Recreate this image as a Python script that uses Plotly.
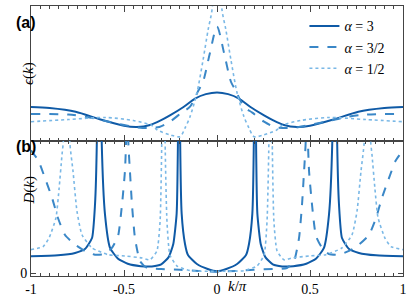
import numpy as np
import plotly.graph_objects as go
from plotly.subplots import make_subplots

# ---------------- data (left half, k/pi <= 0; curves are symmetric) ----------------
# panel (a): epsilon(k)
eps_k_a3 = [-1, -0.9, -0.76, -0.63, -0.5, -0.43, -0.36, -0.3, -0.253, -0.18, -0.118, -0.06, 0]
eps_a3 = [0.252, 0.244, 0.217, 0.161, 0.113, 0.104, 0.119, 0.155, 0.19, 0.252, 0.314, 0.347, 0.360]

eps_k_a32 = [-1, -0.8, -0.7, -0.6, -0.5, -0.4, -0.31, -0.253, -0.19, -0.145, -0.1, -0.075, -0.038, 0]
eps_a32 = [0.2, 0.196, 0.178, 0.148, 0.119, 0.096, 0.104, 0.143, 0.21, 0.254, 0.374, 0.439, 0.652, 0.847]

eps_k_a12 = [-1, -0.8, -0.6, -0.45, -0.35, -0.32, -0.25, -0.199, -0.172, -0.145, -0.108, -0.075, -0.048, -0.027, 0]
eps_a12 = [0.143, 0.159, 0.174, 0.152, 0.115, 0.081, 0.045, 0.032, 0.096, 0.18, 0.356, 0.6, 0.822, 0.97, 1.5]

# panel (b): D(k)
D_k_a3 = [-1, -0.855, -0.763, -0.71, -0.672, -0.656, -0.646, -0.634, -0.62, -0.602, -0.575, -0.532,
          -0.48, -0.41, -0.35, -0.3, -0.26, -0.235, -0.217, -0.21, -0.204, -0.198, -0.19, -0.172,
          -0.156, -0.108, -0.05, 0]
D_a3 = [0.127, 0.134, 0.152, 0.182, 0.265, 0.515, 1.0, 4.0, 1.0, 0.44, 0.19, 0.108,
        0.07, 0.052, 0.05, 0.065, 0.12, 0.22, 0.45, 1.0, 4.0, 1.0, 0.45, 0.22,
        0.136, 0.068, 0.03, 0.013]

D_k_a32 = [-1, -0.96, -0.925, -0.887, -0.855, -0.817, -0.763, -0.71, -0.656, -0.602, -0.565, -0.532,
           -0.511, -0.495, -0.489, -0.484, -0.477, -0.468, -0.457, -0.441, -0.414, -0.376, -0.3,
           -0.2, -0.1, 0]
D_a32 = [0.93, 0.85, 0.72, 0.57, 0.417, 0.288, 0.215, 0.167, 0.139, 0.144, 0.19, 0.28,
         0.515, 0.77, 1.0, 4.0, 1.0, 0.77, 0.515, 0.265, 0.09, 0.038, 0.03,
         0.025, 0.015, 0.01]

D_k_a12 = [-1, -0.935, -0.903, -0.866, -0.849, -0.833, -0.826, -0.809, -0.792, -0.774, -0.753, -0.726,
           -0.672, -0.586, -0.495, -0.403, -0.36, -0.323, -0.306, -0.297, -0.288, -0.279, -0.269,
           -0.253, -0.215, -0.145, 0]
D_a12 = [0.177, 0.2, 0.265, 0.417, 0.64, 0.9, 1.0, 4.0, 1.0, 0.77, 0.47, 0.29,
         0.19, 0.139, 0.129, 0.114, 0.1, 0.167, 0.39, 1.0, 4.0, 1.0, 0.39,
         0.136, 0.053, 0.018, 0.013]

names = ["<i>α</i> = 3", "<i>α</i> = 3/2", "<i>α</i> = 1/2"]
colors = ["#0f5aa6", "#3a87c7", "#7ab8e6"]
dashes = ["solid", "dash", "dot"]
widths = [2.0, 2.0, 1.6]

x_tickvals = [-1, -0.5, 0, 0.5, 1]
x_ticktext = ["-1", "-0.5", "0", "0.5", "1"]


def mirror(k, v):
    k = np.asarray(k, float)
    v = np.asarray(v, float)
    return np.concatenate([k, -k[-2::-1]]), np.concatenate([v, v[-2::-1]])


fig = make_subplots(rows=2, cols=1, shared_xaxes=True, vertical_spacing=0)

top = [(eps_k_a3, eps_a3), (eps_k_a32, eps_a32), (eps_k_a12, eps_a12)]
bot = [(D_k_a3, D_a3), (D_k_a32, D_a32), (D_k_a12, D_a12)]

for i in range(3):
    kx, ky = mirror(*top[i])
    fig.add_trace(go.Scatter(x=kx, y=ky, mode="lines", name=names[i],
                             line=dict(color=colors[i], dash=dashes[i], width=widths[i],
                                       shape="spline", smoothing=0.8)), row=1, col=1)
for i in range(3):
    kx, ky = mirror(*bot[i])
    fig.add_trace(go.Scatter(x=kx, y=ky, mode="lines", showlegend=False,
                             line=dict(color=colors[i], dash=dashes[i], width=widths[i],
                                       shape="spline", smoothing=0.5)), row=2, col=1)

serif = "Liberation Serif"
axcol = "#444"
xcommon = dict(range=[-1, 1], tickvals=x_tickvals, ticktext=x_ticktext, ticks="inside",
               ticklen=6, tickcolor=axcol, showline=True, linecolor=axcol, linewidth=1,
               mirror="ticks", showgrid=False, zeroline=False,
               minor=dict(dtick=0.05, ticks="inside", ticklen=3, tickcolor=axcol, showgrid=False))
fig.update_xaxes(**xcommon, showticklabels=False, row=1, col=1)
fig.update_xaxes(**xcommon, showticklabels=True, tickfont=dict(family=serif, size=14, color="black"),
                 row=2, col=1)
fig.update_yaxes(range=[0, 1], showticklabels=False, ticks="", showline=True, linecolor=axcol,
                 linewidth=1, mirror=True, showgrid=False, zeroline=False, row=1, col=1)
fig.update_yaxes(range=[-0.0227, 1], tickvals=[0], ticktext=["0"], ticks="inside", ticklen=5,
                 tickcolor=axcol, showline=True, linecolor=axcol, linewidth=1, mirror="ticks",
                 showgrid=False, zeroline=False, tickfont=dict(family=serif, size=14, color="black"),
                 row=2, col=1)

fig.update_layout(
    width=415, height=308, margin=dict(l=31, r=12, t=6, b=32),
    paper_bgcolor="white", plot_bgcolor="white",
    legend=dict(x=0.735, y=0.984, xanchor="left", yanchor="top", bgcolor="rgba(0,0,0,0)",
                font=dict(family=serif, size=14, color="black"), tracegroupgap=0,
                itemwidth=30),
    annotations=[
        dict(text="<b>(a)</b>", x=-0.045, y=0.978, xref="paper", yref="paper", showarrow=False,
             font=dict(family="Liberation Sans", size=16, color="black")),
        dict(text="<b>(b)</b>", x=-0.045, y=0.478, xref="paper", yref="paper", showarrow=False,
             font=dict(family="Liberation Sans", size=16, color="black")),
        dict(text="<i>ϵ</i>(<i>k</i>)", x=-0.035, y=0.8, xref="paper", yref="paper",
             showarrow=False, textangle=-90, font=dict(family=serif, size=15, color="black")),
        dict(text="<i>D</i>(<i>k</i>)", x=-0.033, y=0.256, xref="paper", yref="paper",
             showarrow=False, textangle=-90, font=dict(family=serif, size=15, color="black")),
        dict(text="<i>k</i>/<i>π</i>", x=0.556, y=-0.074, xref="paper", yref="paper",
             showarrow=False, font=dict(family=serif, size=15, color="black")),
    ],
)

fig.write_html("out.html", config={"displayModeBar": False},
               post_script="document.body.style.margin='0';document.body.style.overflow='hidden';")
